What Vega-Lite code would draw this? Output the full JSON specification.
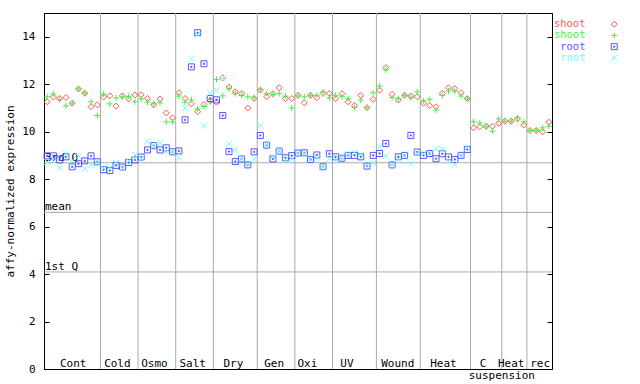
{
  "$schema": "https://vega.github.io/schema/vega-lite/v6.json",
  "autosize": "none",
  "width": 508,
  "height": 356,
  "padding": {"left": 44, "top": 13, "right": 88, "bottom": 15},
  "background": "white",
  "config": {
    "view": {"stroke": "black", "strokeWidth": 1},
    "font": "DejaVu Sans Mono",
    "axis": {"labelFont": "DejaVu Sans Mono", "titleFont": "DejaVu Sans Mono", "domainColor": "black", "tickColor": "black", "labelColor": "black", "titleColor": "black"}
  },
  "datasets": {
    "expr": [
      {"i":0,"shoot1":11.26,"shoot2":11.47,"root1":8.98,"root2":8.73},
      {"i":1,"shoot1":11.46,"shoot2":11.59,"root1":8.98,"root2":8.83},
      {"i":2,"shoot1":11.40,"shoot2":11.36,"root1":8.81,"root2":8.47},
      {"i":3,"shoot1":11.44,"shoot2":11.09,"root1":8.94,"root2":9.07},
      {"i":4,"shoot1":11.20,"shoot2":11.20,"root1":8.52,"root2":8.75},
      {"i":5,"shoot1":11.80,"shoot2":11.80,"root1":8.65,"root2":8.96},
      {"i":6,"shoot1":11.62,"shoot2":11.62,"root1":8.77,"root2":8.43},
      {"i":7,"shoot1":11.05,"shoot2":11.26,"root1":8.98,"root2":8.60},
      {"i":8,"shoot1":11.13,"shoot2":10.68,"root1":8.73,"root2":8.68},
      {"i":9,"shoot1":11.46,"shoot2":11.58,"root1":8.40,"root2":8.47},
      {"i":10,"shoot1":11.51,"shoot2":11.17,"root1":8.36,"root2":8.50},
      {"i":11,"shoot1":11.08,"shoot2":11.42,"root1":8.58,"root2":8.68},
      {"i":12,"shoot1":11.51,"shoot2":11.46,"root1":8.51,"root2":8.47},
      {"i":13,"shoot1":11.38,"shoot2":11.49,"root1":8.70,"root2":8.77},
      {"i":14,"shoot1":11.55,"shoot2":11.26,"root1":8.81,"root2":9.02},
      {"i":15,"shoot1":11.55,"shoot2":11.38,"root1":8.93,"root2":8.88},
      {"i":16,"shoot1":11.40,"shoot2":11.24,"root1":9.23,"root2":9.58},
      {"i":17,"shoot1":11.13,"shoot2":11.17,"root1":9.41,"root2":9.38},
      {"i":18,"shoot1":11.38,"shoot2":11.22,"root1":9.23,"root2":9.52},
      {"i":19,"shoot1":10.79,"shoot2":10.41,"root1":9.32,"root2":9.15},
      {"i":20,"shoot1":10.58,"shoot2":10.41,"root1":9.15,"root2":9.15},
      {"i":21,"shoot1":11.64,"shoot2":11.50,"root1":9.19,"root2":8.90},
      {"i":22,"shoot1":11.40,"shoot2":11.24,"root1":10.50,"root2":11.00},
      {"i":23,"shoot1":11.17,"shoot2":11.34,"root1":12.73,"root2":13.07},
      {"i":24,"shoot1":10.84,"shoot2":10.96,"root1":14.17,"root2":14.08},
      {"i":25,"shoot1":11.15,"shoot2":11.06,"root1":12.86,"root2":10.26},
      {"i":26,"shoot1":11.30,"shoot2":11.26,"root1":11.40,"root2":11.64},
      {"i":27,"shoot1":11.24,"shoot2":12.20,"root1":11.34,"root2":11.74},
      {"i":28,"shoot1":12.27,"shoot2":11.51,"root1":10.68,"root2":12.25},
      {"i":29,"shoot1":11.88,"shoot2":11.81,"root1":9.16,"root2":9.49},
      {"i":30,"shoot1":11.68,"shoot2":11.60,"root1":8.74,"root2":9.23},
      {"i":31,"shoot1":11.60,"shoot2":11.53,"root1":8.85,"root2":8.85},
      {"i":32,"shoot1":11.00,"shoot2":11.47,"root1":8.60,"root2":8.62},
      {"i":33,"shoot1":11.40,"shoot2":11.43,"root1":9.15,"root2":8.83},
      {"i":34,"shoot1":11.75,"shoot2":11.78,"root1":9.84,"root2":10.26},
      {"i":35,"shoot1":11.47,"shoot2":11.61,"root1":9.43,"root2":9.46},
      {"i":36,"shoot1":11.60,"shoot2":11.57,"root1":8.85,"root2":8.95},
      {"i":37,"shoot1":11.85,"shoot2":11.61,"root1":9.18,"root2":9.18},
      {"i":38,"shoot1":11.40,"shoot2":11.50,"root1":8.90,"root2":8.83},
      {"i":39,"shoot1":11.40,"shoot2":11.00,"root1":8.99,"root2":8.83},
      {"i":40,"shoot1":11.53,"shoot2":11.51,"root1":9.10,"root2":9.08},
      {"i":41,"shoot1":11.22,"shoot2":11.47,"root1":9.11,"root2":9.08},
      {"i":42,"shoot1":11.53,"shoot2":11.53,"root1":8.83,"root2":8.83},
      {"i":43,"shoot1":11.43,"shoot2":11.53,"root1":9.02,"root2":8.86},
      {"i":44,"shoot1":11.61,"shoot2":11.67,"root1":8.52,"root2":8.52},
      {"i":45,"shoot1":11.61,"shoot2":11.43,"root1":9.07,"root2":8.86},
      {"i":46,"shoot1":11.39,"shoot2":11.53,"root1":8.94,"root2":8.86},
      {"i":47,"shoot1":11.60,"shoot2":11.47,"root1":8.88,"root2":8.90},
      {"i":48,"shoot1":11.26,"shoot2":11.39,"root1":9.00,"root2":9.04},
      {"i":49,"shoot1":11.10,"shoot2":11.01,"root1":9.00,"root2":9.11},
      {"i":50,"shoot1":11.53,"shoot2":11.33,"root1":8.94,"root2":9.04},
      {"i":51,"shoot1":11.01,"shoot2":11.01,"root1":8.55,"root2":8.60},
      {"i":52,"shoot1":11.36,"shoot2":11.64,"root1":9.00,"root2":8.69},
      {"i":53,"shoot1":11.75,"shoot2":11.92,"root1":9.08,"root2":9.36},
      {"i":54,"shoot1":12.70,"shoot2":12.60,"root1":9.50,"root2":8.97},
      {"i":55,"shoot1":11.57,"shoot2":11.43,"root1":8.60,"root2":8.60},
      {"i":56,"shoot1":11.33,"shoot2":11.39,"root1":8.94,"root2":8.86},
      {"i":57,"shoot1":11.53,"shoot2":11.53,"root1":9.00,"root2":9.00},
      {"i":58,"shoot1":11.50,"shoot2":11.43,"root1":9.84,"root2":8.66},
      {"i":59,"shoot1":11.47,"shoot2":11.67,"root1":9.14,"root2":9.08},
      {"i":60,"shoot1":11.20,"shoot2":11.30,"root1":9.00,"root2":9.06},
      {"i":61,"shoot1":11.10,"shoot2":11.36,"root1":9.08,"root2":9.08},
      {"i":62,"shoot1":11.05,"shoot2":10.91,"root1":8.86,"root2":9.28},
      {"i":63,"shoot1":11.61,"shoot2":11.53,"root1":9.07,"root2":9.25},
      {"i":64,"shoot1":11.85,"shoot2":11.71,"root1":8.94,"root2":8.76},
      {"i":65,"shoot1":11.81,"shoot2":11.71,"root1":8.83,"root2":8.62},
      {"i":66,"shoot1":11.64,"shoot2":11.50,"root1":9.00,"root2":9.00},
      {"i":67,"shoot1":11.39,"shoot2":11.39,"root1":9.25,"root2":9.32},
      {"i":68,"shoot1":10.16,"shoot2":10.42},
      {"i":69,"shoot1":10.21,"shoot2":10.37},
      {"i":70,"shoot1":10.23,"shoot2":10.21},
      {"i":71,"shoot1":10.23,"shoot2":10.02},
      {"i":72,"shoot1":10.35,"shoot2":10.54},
      {"i":73,"shoot1":10.44,"shoot2":10.44},
      {"i":74,"shoot1":10.44,"shoot2":10.44},
      {"i":75,"shoot1":10.54,"shoot2":10.58},
      {"i":76,"shoot1":10.28,"shoot2":10.42},
      {"i":77,"shoot1":10.05,"shoot2":10.05},
      {"i":78,"shoot1":10.05,"shoot2":10.05},
      {"i":79,"shoot1":9.99,"shoot2":10.16},
      {"i":80,"shoot1":10.40,"shoot2":10.23}
    ],
    "seps": [{"b":8.5},{"b":14.5},{"b":20.5},{"b":26.5},{"b":33.5},{"b":39.5},{"b":45.5},{"b":52.5},{"b":59.5},{"b":67.5},{"b":72.5},{"b":76.5}],
    "stats": [{"name":"3rd Q","v":8.69},{"name":"mean","v":6.6},{"name":"1st Q","v":4.09}],
    "groups": [
      {"g":"Cont","p":4.16},{"g":"Cold","p":11.2},{"g":"Osmo","p":17.1},{"g":"Salt","p":23.2},
      {"g":"Dry","p":29.7},{"g":"Gen","p":36.2},{"g":"Oxi","p":41.5},{"g":"UV","p":47.8},
      {"g":"Wound","p":55.9},{"g":"Heat","p":63.2},{"g":"C","p":69.5},{"g":"Heat","p":74.0},{"g":"rec","p":78.6}
    ]
  },
  "layer": [
    {
      "data": {"name": "seps"},
      "mark": {"type": "rule", "color": "#aaaaaa", "strokeWidth": 1},
      "encoding": {
        "x": {"field": "b", "type": "quantitative", "scale": {"domain": [-0.5, 80.5], "nice": false, "zero": false}, "axis": null}
      }
    },
    {
      "data": {"name": "stats"},
      "mark": {"type": "rule", "color": "#aaaaaa", "strokeWidth": 1},
      "encoding": {
        "y": {"field": "v", "type": "quantitative", "scale": {"domain": [0, 15], "nice": false}, "axis": {"title": "affy-normalized expression", "values": [0,2,4,6,8,10,12,14], "grid": false, "tickSize": -5, "labelPadding": 14, "labelFontSize": 11, "titleFontSize": 11, "titleFontWeight": "normal", "titlePadding": 6, "orient": "left"}}
      }
    },
    {
      "data": {"name": "stats"},
      "mark": {"type": "rule", "opacity": 0},
      "encoding": {
        "y": {"field": "v", "type": "quantitative", "axis": {"orient": "right", "values": [0,2,4,6,8,10,12,14], "labels": false, "title": null, "grid": false, "tickSize": -5, "domain": true}}
      }
    },
    {
      "data": {"name": "stats"},
      "mark": {"type": "text", "align": "left", "baseline": "alphabetic", "dx": 1, "dy": -2, "fontSize": 11, "color": "black", "font": "DejaVu Sans Mono"},
      "encoding": {
        "x": {"datum": -0.5, "type": "quantitative"},
        "y": {"field": "v", "type": "quantitative", "axis": null},
        "text": {"field": "name"}
      }
    },
    {
      "data": {"name": "groups"},
      "mark": {"type": "text", "align": "center", "baseline": "alphabetic", "dy": -2, "fontSize": 11, "color": "black", "font": "DejaVu Sans Mono"},
      "encoding": {
        "x": {"field": "p", "type": "quantitative"},
        "y": {"datum": 0, "type": "quantitative", "axis": null},
        "text": {"field": "g"}
      }
    },
    {
      "data": {"values": [{"t": "suspension", "p": 72.5}]},
      "mark": {"type": "text", "align": "center", "baseline": "alphabetic", "dy": 10, "fontSize": 11, "color": "black", "font": "DejaVu Sans Mono"},
      "encoding": {
        "x": {"field": "p", "type": "quantitative"},
        "y": {"datum": 0, "type": "quantitative", "axis": null},
        "text": {"field": "t"}
      }
    },
    {
      "data": {"name": "expr"},
      "transform": [{"fold": ["shoot1", "shoot2", "root1", "root2"], "as": ["series", "value"]}],
      "mark": {"type": "point", "filled": false, "opacity": 1, "strokeWidth": 1, "size": 36},
      "encoding": {
        "x": {"field": "i", "type": "quantitative"},
        "y": {"field": "value", "type": "quantitative", "axis": null},
        "color": {
          "field": "series", "type": "nominal",
          "scale": {"domain": ["shoot1", "shoot2", "root1", "root2"], "range": ["#ff5555", "#44f044", "#5555ff", "#66ffff"]},
          "legend": {"orient": "none", "legendX": 565, "legendY": 6, "title": null, "padding": 0, "rowPadding": 0.2, "labelAlign": "right", "labelOffset": -34, "labelFont": "DejaVu Sans Mono", "labelFontSize": 10.5, "symbolSize": 36, "symbolStrokeWidth": 1, "labelExpr": "slice(datum.value, 0, -1)", "labelColor": {"expr": "datum.value == 'shoot1' ? '#ff5555' : datum.value == 'shoot2' ? '#44f044' : datum.value == 'root1' ? '#5555ff' : '#66ffff'"}}
        },
        "shape": {
          "field": "series", "type": "nominal",
          "scale": {"domain": ["shoot1", "shoot2", "root1", "root2"], "range": ["diamond", "M-1,0H1M0,-1V1", "M-1,-1H1V1H-1Z M-0.2,-0.2H0.2V0.2H-0.2Z", "M-1,-1L1,1M-1,1L1,-1"]},
          "legend": {"orient": "none", "legendX": 565, "legendY": 6, "title": null, "padding": 0, "rowPadding": 0.2, "labelAlign": "right", "labelOffset": -34, "labelFont": "DejaVu Sans Mono", "labelFontSize": 10.5, "symbolSize": 36, "symbolStrokeWidth": 1, "labelExpr": "slice(datum.value, 0, -1)", "labelColor": {"expr": "datum.value == 'shoot1' ? '#ff5555' : datum.value == 'shoot2' ? '#44f044' : datum.value == 'root1' ? '#5555ff' : '#66ffff'"}}
        }
      }
    }
  ],
  "resolve": {"axis": {"y": "independent"}}
}
